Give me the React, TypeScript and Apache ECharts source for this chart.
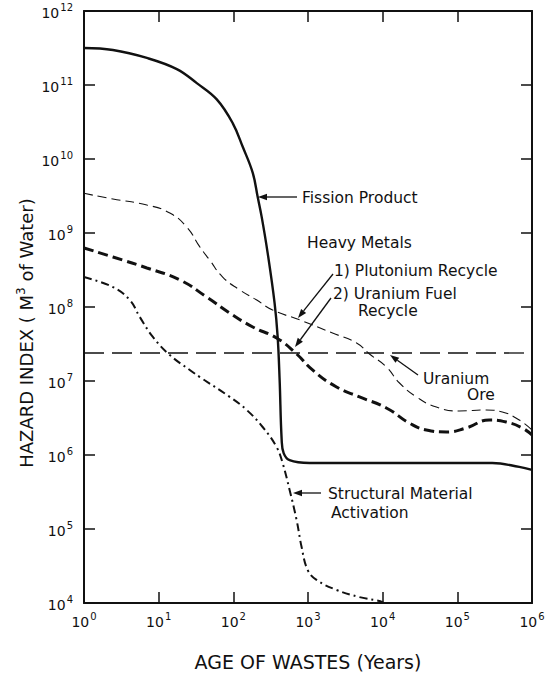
import React, { useEffect, useRef } from "react";
import * as echarts from "echarts";

// Age (years), hazard index (m^3 of water)
const fissionProduct: [number, number][] = [
  [1, 3.16e11], [2.44, 2.97e11], [6.95, 2.32e11], [17.5, 1.64e11], [32.4, 1.06e11],
  [60, 6.4e10], [98, 3.06e10], [134, 1.45e10], [182, 6.5e9], [212, 3.06e9],
  [240, 1.64e9], [288, 5.4e8], [357, 1.13e8], [392, 4e7], [417, 1.03e7],
  [444, 1.6e6], [472, 1.06e6], [567, 8.5e5], [1050, 7.8e5], [1770, 7.8e5],
  [38500, 7.8e5], [294000, 7.8e5], [675000, 6.9e5], [1e6, 6.3e5],
];
const plutoniumRecycle: [number, number][] = [
  [1, 3.44e9], [2.44, 2.88e9], [6.95, 2.39e9], [14.1, 1.86e9], [23.8, 1.2e9],
  [35.6, 6.5e8], [48.3, 4.3e8], [72, 2.54e8], [122, 1.7e8], [206, 1.24e8],
  [336, 9.1e7], [772, 6.7e7], [2130, 4.45e7], [4470, 3.27e7], [6660, 2.32e7],
  [11200, 1.55e7], [16800, 9.4e6], [28300, 6.1e6], [52400, 4.45e6], [106000, 3.94e6],
  [244000, 4.06e6], [400000, 3.81e6], [675000, 2.97e6], [1e6, 2.18e6],
];
const uraniumFuelRecycle: [number, number][] = [
  [1, 6.27e8], [2.44, 4.74e8], [6.95, 3.37e8], [19.2, 2.32e8], [44.1, 1.36e8],
  [89.5, 8.3e7], [182, 5.37e7], [380, 3.81e7], [704, 2.32e7], [1150, 1.41e7],
  [2410, 8.3e6], [4900, 6.1e6], [11200, 4.32e6], [22800, 2.7e6], [38500, 2.18e6],
  [71300, 2.05e6], [132000, 2.32e6], [268000, 2.97e6], [452000, 2.79e6],
  [740000, 2.32e6], [1e6, 1.86e6],
];
const structuralActivation: [number, number][] = [
  [1, 2.54e8], [2.44, 1.86e8], [4.12, 1.24e8], [5.6, 7.3e7], [8.36, 3.94e7],
  [14.1, 2.24e7], [26.1, 1.41e7], [35.6, 1.13e7], [89.5, 6.1e6], [151, 4.06e6],
  [247, 2.39e6], [380, 1.28e6], [457, 7.8e5], [567, 3.37e5], [704, 1.32e5],
  [821, 5.7e4], [988, 2.8e4], [1300, 2.05e4], [2410, 1.5e4], [4900, 1.2e4],
  [9940, 1.03e4], [10000, 1e4],
];
const uraniumOre: [number, number][] = [[1, 2.39e7], [1e6, 2.39e7]];

const xRange = [1, 1e6];
const yRange = [1e4, 1e12];

const FONT = "DejaVu Sans";

function powLabel(v: number) {
  const e = Math.round(Math.log10(v));
  return `{b|10}{s|${e}}`;
}

const tickRich = {
  b: { fontSize: 14, fontFamily: FONT, color: "#111", verticalAlign: "bottom" as const, lineHeight: 18 },
  s: { fontSize: 10, fontFamily: FONT, color: "#111", verticalAlign: "top" as const, lineHeight: 18, padding: [0, 0, 9, 1] },
};

function arrow(x1: number, y1: number, x2: number, y2: number) {
  const ang = Math.atan2(y2 - y1, x2 - x1);
  const L = 9, W = 3.2;
  const bx = x2 - L * Math.cos(ang), by = y2 - L * Math.sin(ang);
  const px = -Math.sin(ang) * W, py = Math.cos(ang) * W;
  return [
    { type: "line", shape: { x1, y1, x2: bx, y2: by }, style: { stroke: "#111", lineWidth: 1.3 } },
    {
      type: "polygon",
      shape: { points: [[x2, y2], [bx + px, by + py], [bx - px, by - py]] },
      style: { fill: "#111" },
    },
  ];
}

function label(text: string, x: number, y: number, extra: any = {}) {
  return {
    type: "text",
    x, y,
    style: {
      text, fontFamily: FONT, fontSize: 15.5, lineHeight: 15, fill: "#111",
      verticalAlign: "middle", ...extra,
    },
  };
}

export default function App() {
  const ref = useRef<HTMLDivElement>(null);
  useEffect(() => {
    if (!ref.current) return;
    const chart = echarts.init(ref.current, undefined, { renderer: "svg" });
    const axisCommon = {
      type: "log" as const,
      logBase: 10,
      axisLine: { show: true, lineStyle: { color: "#111", width: 2 } },
      axisTick: { show: true, inside: true, length: 11, lineStyle: { color: "#111", width: 1.5 } },
      splitLine: { show: false },
      minorTick: { show: false },
    };
    const line = (name: string, data: any, lineStyle: any, smooth: number = 0.5) => ({
      name,
      type: "line",
      data,
      showSymbol: false,
      symbol: "none",
      smooth,
      lineStyle: { color: "#111", ...lineStyle },
      z: 3,
    });
    chart.setOption({
      animation: false,
      backgroundColor: "#fff",
      grid: { left: 84, right: 27, top: 11, bottom: 71 },
      xAxis: [
        {
          ...axisCommon,
          position: "bottom",
          min: xRange[0], max: xRange[1], interval: 1,
          axisLabel: { formatter: powLabel, rich: tickRich, margin: 8 },
        },
        {
          ...axisCommon,
          position: "top",
          min: xRange[0], max: xRange[1], interval: 1,
          axisLabel: { show: false },
        },
      ],
      yAxis: [
        {
          ...axisCommon,
          position: "left",
          min: yRange[0], max: yRange[1], interval: 1,
          axisLabel: { formatter: powLabel, rich: tickRich, margin: 11 },
        },
        {
          ...axisCommon,
          position: "right",
          min: yRange[0], max: yRange[1], interval: 1,
          axisLabel: { show: false },
        },
      ],
      series: [
        line("Fission Product", fissionProduct, { width: 2.4, type: "solid" }, 0.4),
        line("Plutonium Recycle", plutoniumRecycle, { width: 1.1, type: [9, 5] }),
        line("Uranium Fuel Recycle", uraniumFuelRecycle, { width: 3, type: [10, 5] }),
        line("Structural Material Activation", structuralActivation, { width: 2, type: [8, 4, 2, 4] }, 0.4),
        line("Uranium Ore", uraniumOre, { width: 1.3, type: [20, 8] }, 0),
      ],
      graphic: [
        ...arrow(297, 197, 258, 197),
        label("Fission Product", 302, 198),
        label("Heavy Metals", 307, 243),
        label("1) Plutonium Recycle", 334, 271),
        label("2) Uranium Fuel", 333, 294),
        label("Recycle", 358, 311),
        ...arrow(333, 274, 298, 318),
        ...arrow(331, 298, 295, 347),
        ...arrow(418, 375, 390, 355),
        label("Uranium", 423, 379),
        label("Ore", 467, 395),
        ...arrow(321, 493, 293, 493),
        label("Structural Material", 328, 494),
        label("Activation", 331, 513),
        {
          type: "text",
          x: 26, y: 333, rotation: Math.PI / 2,
          style: {
            text: "HAZARD INDEX ( M{s|3} of Water)",
            fontFamily: FONT, fontSize: 18, fill: "#111",
            align: "center", verticalAlign: "middle",
            rich: { s: { fontSize: 12, fontFamily: FONT, fill: "#111", verticalAlign: "top", padding: [0, 0, 10, 0] } },
          },
        },
        {
          type: "text",
          x: 308, y: 662,
          style: {
            text: "AGE OF WASTES (Years)",
            fontFamily: FONT, fontSize: 19, fill: "#111",
            align: "center", verticalAlign: "middle",
          },
        },
      ],
    });
    return () => chart.dispose();
  }, []);
  return (
    <div
      ref={ref}
      style={{ position: "fixed", left: 0, top: 0, width: 559, height: 674, background: "#fff" }}
    />
  );
}
